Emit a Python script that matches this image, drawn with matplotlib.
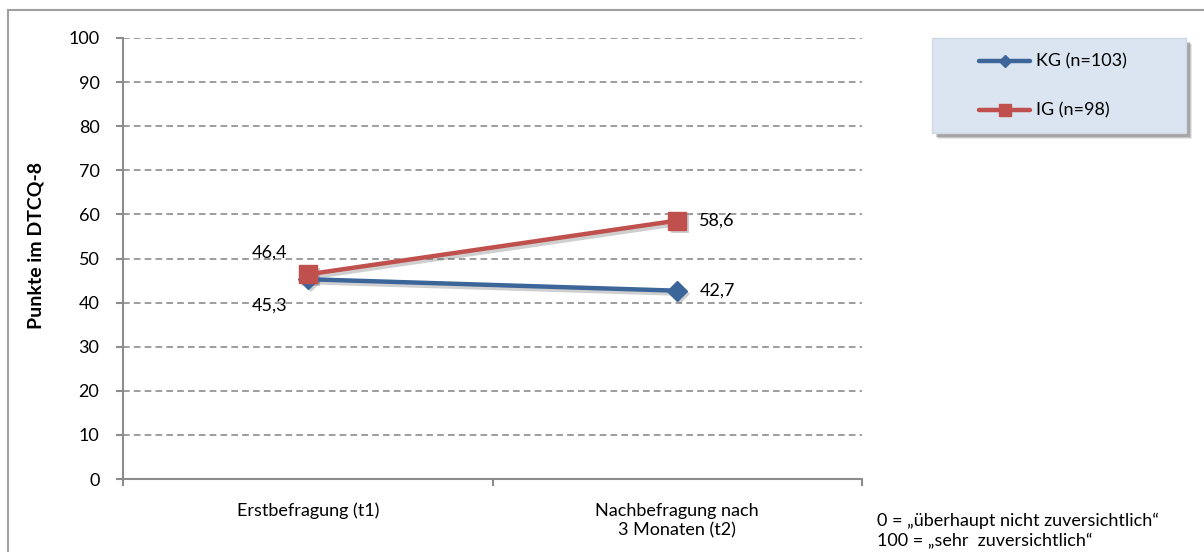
import matplotlib
matplotlib.use("Agg")
from matplotlib import pyplot as plt
from matplotlib import transforms
from matplotlib.patches import Rectangle
from matplotlib.lines import Line2D

plt.rcParams['font.family'] = ['Lato', 'DejaVu Sans']

# DTCQ-8 scores, control group vs. intervention group
zeitpunkte = ['Erstbefragung (t1)', 'Nachbefragung nach\n3 Monaten (t2)']
kg_werte = [45.3, 42.7]
ig_werte = [46.4, 58.6]
kg_label = 'KG (n=103)'
ig_label = 'IG (n=98)'
y_ticks = list(range(0, 101, 10))

blau = '#3c6699'
rot = '#c0504d'
grau = '#8c8c8c'
fs = 13

W, H = 1204, 552
fig = plt.figure(figsize=(W / 100, H / 100), dpi=100)

# outer frame (only left and top edges are inside the canvas)
fig.add_artist(Line2D([8 / W, 8 / W], [0, 1 - 10 / H], transform=fig.transFigure,
                      color='#a0a0a0', lw=1.5))
fig.add_artist(Line2D([8 / W, 1], [1 - 10 / H, 1 - 10 / H], transform=fig.transFigure,
                      color='#a0a0a0', lw=1.5))

ax = fig.add_axes([123 / W, 1 - 479 / H, (862 - 123) / W, (479 - 38) / H])
x = list(range(len(zeitpunkte)))

# soft drop shadows, shifted a few pixels right/down
versatz = transforms.offset_copy(ax.transData, fig=fig, x=3, y=-3, units='dots')
for werte, mk, ms in [(kg_werte, 'D', 10), (ig_werte, 's', 13)]:
    ax.plot(x, werte, color='#606060', alpha=0.3, lw=3.2, marker=mk, markersize=ms,
            markeredgewidth=0, transform=versatz, zorder=2)

ax.plot(x, kg_werte, color=blau, lw=3.2, marker='D', markersize=10, zorder=3)
ax.plot(x, ig_werte, color=rot, lw=3.2, marker='s', markersize=13, zorder=4)

def fmt(v):
    return f'{v:.1f}'.replace('.', ',')

ax.annotate(fmt(ig_werte[0]), (x[0], ig_werte[0]), xytext=(-20, 22),
            textcoords='offset pixels', ha='right', va='center', fontsize=fs)
ax.annotate(fmt(kg_werte[0]), (x[0], kg_werte[0]), xytext=(-20, -26),
            textcoords='offset pixels', ha='right', va='center', fontsize=fs)
ax.annotate(fmt(ig_werte[1]), (x[1], ig_werte[1]), xytext=(22, 0),
            textcoords='offset pixels', ha='left', va='center', fontsize=fs)
ax.annotate(fmt(kg_werte[1]), (x[1], kg_werte[1]), xytext=(22, 0),
            textcoords='offset pixels', ha='left', va='center', fontsize=fs)

ax.set_xlim(-0.5, 1.5)
ax.set_ylim(0, 100)
ax.set_yticks(y_ticks)
ax.set_xticks(x)
ax.set_xticklabels(zeitpunkte, fontsize=fs, linespacing=1.25)
ax.set_xticks([-0.5, 0.5, 1.5], minor=True)
ax.tick_params(axis='x', which='major', length=0, pad=17)
ax.tick_params(axis='x', which='minor', length=5, width=1.5, color=grau, direction='out')
ax.tick_params(axis='y', length=5, width=1.5, color=grau, pad=12, labelsize=fs)

for y in y_ticks[1:]:
    ax.axhline(y, color=grau, lw=1.2, ls=(0, (4, 2.5)), zorder=1)

for s in ['top', 'right']:
    ax.spines[s].set_visible(False)
for s in ['left', 'bottom']:
    ax.spines[s].set_color(grau)
    ax.spines[s].set_linewidth(1.5)

ax.set_ylabel('Punkte im DTCQ-8', fontsize=14, fontweight='bold')
ax.yaxis.set_label_coords(-78 / (862 - 123), 0.53)

# legend box with drop shadow
lx0, ly0, lx1, ly1 = 932, 38, 1186, 133
for d, a in [(6, 0.12), (5, 0.18), (4, 0.25)]:
    fig.add_artist(Rectangle(((lx0 + d) / W, 1 - (ly1 + d) / H), (lx1 - lx0) / W,
                             (ly1 - ly0) / H, transform=fig.transFigure,
                             facecolor='#404040', alpha=a, edgecolor='none'))
fig.add_artist(Rectangle((lx0 / W, 1 - ly1 / H), (lx1 - lx0) / W, (ly1 - ly0) / H,
                         transform=fig.transFigure, facecolor='#dbe5f1', edgecolor='#d0d8e4'))
for yy, col, mk, ms, lab in [(61, blau, 'D', 6, kg_label), (110, rot, 's', 9, ig_label)]:
    fig.add_artist(Line2D([979 / W, 1030 / W], [1 - yy / H] * 2, transform=fig.transFigure,
                          color=col, lw=3.2, solid_capstyle='round'))
    fig.add_artist(Line2D([1004.5 / W], [1 - yy / H], transform=fig.transFigure,
                          color=col, marker=mk, markersize=ms, lw=0))
    fig.text(1036 / W, 1 - yy / H, lab, fontsize=fs, va='center', ha='left')

fig.text(877 / W, 1 - 521 / H, '0 = „überhaupt nicht zuversichtlich“', fontsize=fs,
         va='center', ha='left')
fig.text(877 / W, 1 - 541 / H, '100 = „sehr  zuversichtlich“', fontsize=fs,
         va='center', ha='left')

fig.savefig('out.png', dpi=100)
